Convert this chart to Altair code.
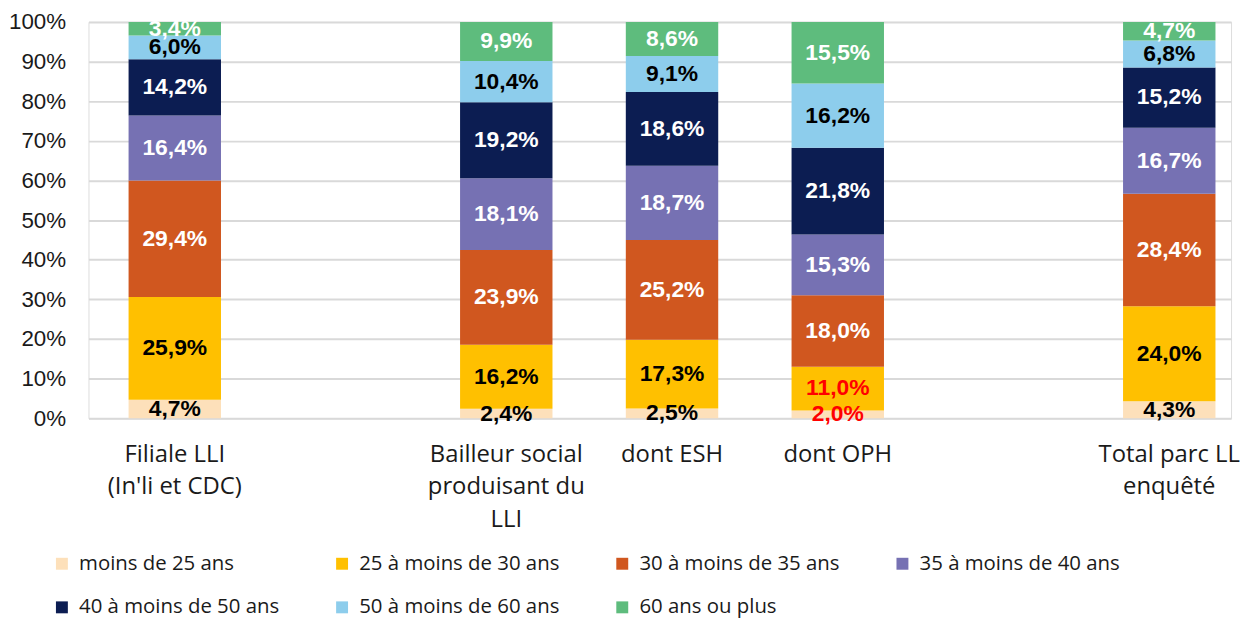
import altair as alt
import pandas as pd

categories = ["Filiale LLI|(In'li et CDC)", "Bailleur social|produisant du|LLI",
              "dont ESH", "dont OPH", "Total parc LL|enquêté"]
x_domain = [categories[0], " ", categories[1], categories[2], categories[3], "  ", categories[4]]

series = ["moins de 25 ans", "25 à moins de 30 ans", "30 à moins de 35 ans",
          "35 à moins de 40 ans", "40 à moins de 50 ans", "50 à moins de 60 ans",
          "60 ans ou plus"]
colors = ["#FDE0BA", "#FFC000", "#D0571F", "#7671B3", "#0C1D52", "#8DCDEC", "#5EBC7D"]
label_colors = ["black", "black", "white", "white", "white", "black", "white"]

moins25 = [4.7, 2.4, 2.5, 2.0, 4.3]
a25_30 = [25.9, 16.2, 17.3, 11.0, 24.0]
a30_35 = [29.4, 23.9, 25.2, 18.0, 28.4]
a35_40 = [16.4, 18.1, 18.7, 15.3, 16.7]
a40_50 = [14.2, 19.2, 18.6, 21.8, 15.2]
a50_60 = [6.0, 10.4, 9.1, 16.2, 6.8]
a60p = [3.4, 9.9, 8.6, 15.5, 4.7]
values = [moins25, a25_30, a30_35, a35_40, a40_50, a50_60, a60p]

# labels shown in red (category, series)
red_labels = [("dont OPH", "moins de 25 ans"), ("dont OPH", "25 à moins de 30 ans")]

y_ticks = [0, 0.1, 0.2, 0.3, 0.4, 0.5, 0.6, 0.7, 0.8, 0.9, 1.0]

rows = []
for si, s in enumerate(series):
    for ci, c in enumerate(categories):
        v = values[si][ci]
        lc = label_colors[si]
        if (c, s) in red_labels:
            lc = "#FF0000"
        rows.append({"cat": c, "serie": s, "idx": si, "value": v,
                     "label": f"{v:.1f}".replace(".", ",") + "%", "lc": lc})
df = pd.DataFrame(rows)

x_scale = alt.Scale(domain=x_domain, paddingInner=0.4424, paddingOuter=0.168, align=0.72)
y_scale = alt.Scale(domain=[0, 1])

x_axis = alt.Axis(title=None, labelAngle=0, ticks=False, domain=False,
                  labelFont="Open Sans", labelFontSize=24, labelColor="#1a1a1a",
                  labelPadding=24, labelLineHeight=33, labelBaseline="top",
                  labelExpr="split(datum.value, '|')", labelLimit=400)
y_axis = alt.Axis(title=None, values=y_ticks, format=".0%", ticks=False,
                  domain=False, labelFont="Liberation Sans", labelFontSize=22.5,
                  labelColor="#1a1a1a", labelPadding=23, labelOverlap=False,
                  labelFlush=False, grid=True, gridColor="#D9D9D9", gridWidth=2)

bars = alt.Chart(df).mark_bar().encode(
    x=alt.X("cat:N", scale=x_scale, sort=x_domain, axis=x_axis),
    y=alt.Y("value:Q", stack="normalize", scale=y_scale, axis=y_axis),
    color=alt.Color("serie:N", scale=alt.Scale(domain=series, range=colors),
                    legend=alt.Legend(title=None, orient="none", legendX=-37, legendY=535,
                                      direction="horizontal", columns=4,
                                      symbolType="square", symbolSize=144,
                                      symbolStrokeWidth=0,
                                      labelFont="Open Sans", labelFontSize=20.5,
                                      labelColor="#1a1a1a", labelOffset=7,
                                      columnPadding=52, rowPadding=23,
                                      gridAlign="all", labelLimit=400, padding=0)),
    order=alt.Order("idx:Q", sort="ascending"),
)

texts = alt.Chart(df).transform_stack(
    stack="value", groupby=["cat"], sort=[alt.SortField("idx", order="ascending")],
    as_=["y0", "y1"], offset="normalize"
).transform_calculate(
    mid="(datum.y0 + datum.y1) / 2"
).mark_text(font="Liberation Sans", fontWeight="bold", fontSize=23,
            baseline="middle", align="center").encode(
    x=alt.X("cat:N", scale=x_scale, sort=x_domain, axis=x_axis),
    y=alt.Y("mid:Q", scale=y_scale, axis=y_axis),
    text="label:N",
    color=alt.Color("lc:N", scale=None),
)

chart = alt.layer(bars, texts).properties(
    width=1150, height=399, padding={"left": 0, "top": 1, "right": 0, "bottom": 0}
).configure_view(stroke=None).configure(background="white")

chart.save("out.html", embed_options={"renderer": "svg", "actions": False})
